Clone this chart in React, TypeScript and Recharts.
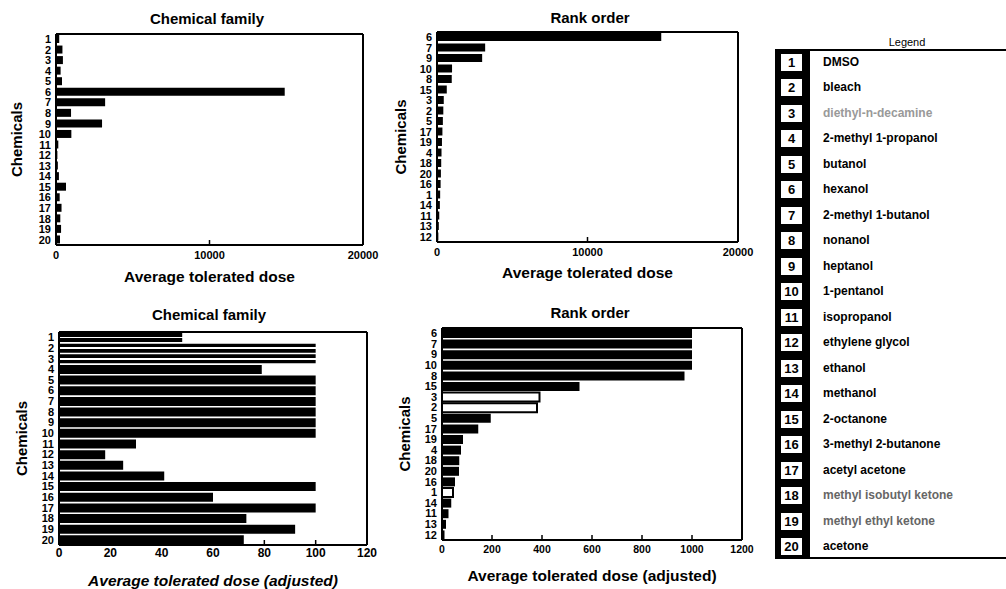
import React from "react";
import { BarChart, Bar, XAxis, YAxis, Cell, CartesianGrid } from "recharts";

// chemical numbers (category ticks)
const chemicals = ["1", "2", "3", "4", "5", "6", "7", "8", "9", "10", "11", "12", "13", "14", "15", "16", "17", "18", "19", "20"];

const chemicalNames = [
  "DMSO",
  "bleach",
  "diethyl-n-decamine",
  "2-methyl 1-propanol",
  "butanol",
  "hexanol",
  "2-methyl 1-butanol",
  "nonanol",
  "heptanol",
  "1-pentanol",
  "isopropanol",
  "ethylene glycol",
  "ethanol",
  "methanol",
  "2-octanone",
  "3-methyl 2-butanone",
  "acetyl acetone",
  "methyl isobutyl ketone",
  "methyl ethyl ketone",
  "acetone",
];

// average tolerated dose, chemicals 1..20
const averageDose = [210, 420, 450, 300, 390, 14900, 3200, 980, 3000, 1000, 150, 90, 120, 190, 650, 240, 360, 280, 330, 260];

// rank order of chemicals (top to bottom)
const rankOrder = [6, 7, 9, 10, 8, 15, 3, 2, 5, 17, 19, 4, 18, 20, 16, 1, 14, 11, 13, 12];

// adjusted dose by chemical family, chemicals 1..20
const adjustedFamilyDose = [48, 100, 100, 79, 100, 100, 100, 100, 100, 100, 30, 18, 25, 41, 100, 60, 100, 73, 92, 72];

// adjusted dose in rank order (same order as rankOrder)
const adjustedRankDose = [1000, 1000, 1000, 1000, 970, 550, 390, 380, 195, 145, 84, 76, 69, 68, 52, 44, 37, 26, 16, 10];

const rawTicks = [0, 10000, 20000];
const familyTicks = [0, 20, 40, 60, 80, 100, 120];
const rankTicks = [0, 200, 400, 600, 800, 1000, 1200];

// chemicals drawn as hollow bars in the adjusted panels
const hollowChemicals = ["1", "2", "3"];

const familyData = chemicals.map((c, i) => ({ label: c, value: averageDose[i] }));
const rankData = rankOrder.map((n) => ({ label: String(n), value: averageDose[n - 1] }));
const adjFamilyData = chemicals.map((c, i) => ({ label: c, value: adjustedFamilyDose[i] }));
const adjRankData = rankOrder.map((n, i) => ({ label: String(n), value: adjustedRankDose[i] }));

const FONT = "'Liberation Sans', Arial, Helvetica, sans-serif";
const frameLine = { stroke: "#000", strokeWidth: 2 };

type PanelProps = {
  id: string;
  data: { label: string; value: number }[];
  ticks: number[];
  max: number;
  left: number;
  top: number;
  width: number;
  height: number;
  margin: { top: number; right: number; bottom: number; left: number };
  barSize: number;
  tickFont: number;
  tickMargin: number;
  xLabel: string;
  xLabelOffset: number;
  yLabelOffset: number;
  italic?: boolean;
  hollow?: "stripe" | "outline";
  title: string;
  titleX: number;
  titleY: number;
};

function Panel(p: PanelProps) {
  return (
    <>
      <div
        style={{
          position: "absolute",
          left: p.titleX - 100,
          top: p.titleY - 9,
          width: 200,
          textAlign: "center",
          fontSize: 15,
          fontWeight: 700,
          lineHeight: "18px",
        }}
      >
        {p.title}
      </div>
      <div style={{ position: "absolute", left: p.left, top: p.top }}>
        <BarChart width={p.width} height={p.height} data={p.data} layout="vertical" margin={p.margin}>
          <defs>
            <linearGradient id={`stripe-${p.id}`} x1="0" y1="0" x2="0" y2="1">
              <stop offset="0.4" stopColor="#000" />
              <stop offset="0.4" stopColor="#fff" />
              <stop offset="0.6" stopColor="#fff" />
              <stop offset="0.6" stopColor="#000" />
            </linearGradient>
          </defs>
          {/* plot frame: lines on the four edges of the plot area */}
          <CartesianGrid
            stroke="#000"
            strokeWidth={2}
            horizontalCoordinatesGenerator={({ offset }: any) => [offset.top, offset.top + offset.height]}
            verticalCoordinatesGenerator={({ offset }: any) => [offset.left, offset.left + offset.width]}
          />
          <XAxis
            type="number"
            domain={[0, p.max]}
            ticks={p.ticks}
            interval={0}
            height={20}
            axisLine={frameLine}
            tickLine={{ stroke: "#000", strokeWidth: 1.5 }}
            tickSize={-5}
            tickMargin={p.tickMargin}
            tick={{ fontSize: p.tickFont, fontWeight: 700, fill: "#000", fontFamily: FONT }}
            label={{
              value: p.xLabel,
              position: "bottom",
              offset: p.xLabelOffset,
              style: {
                fontSize: 15.5,
                fontWeight: 700,
                fill: "#000",
                fontFamily: FONT,
                fontStyle: p.italic ? "italic" : "normal",
              },
            }}
          />
          <YAxis
            type="category"
            dataKey="label"
            interval={0}
            width={26}
            axisLine={frameLine}
            tickLine={false}
            tickSize={0}
            tickMargin={5}
            tick={{ fontSize: 11, fontWeight: 700, fill: "#000", fontFamily: FONT }}
            label={{
              value: "Chemicals",
              angle: -90,
              position: "left",
              offset: p.yLabelOffset,
              style: { fontSize: 15, fontWeight: 700, fill: "#000", fontFamily: FONT, textAnchor: "middle" },
            }}
          />
          <Bar dataKey="value" fill="#000" barSize={p.barSize} isAnimationActive={false}>
            {p.data.map((d) => {
              const isHollow = p.hollow && hollowChemicals.includes(d.label);
              if (isHollow && p.hollow === "stripe")
                return <Cell key={d.label} fill={`url(#stripe-${p.id})`} />;
              if (isHollow && p.hollow === "outline")
                return <Cell key={d.label} fill="#fff" stroke="#000" strokeWidth={2} />;
              return <Cell key={d.label} fill="#000" />;
            })}
          </Bar>
        </BarChart>
      </div>
    </>
  );
}

function ChemicalLegend() {
  const rowH = 25.5;
  return (
    <>
      <div
        style={{
          position: "absolute",
          left: 857,
          top: 35,
          width: 100,
          textAlign: "center",
          fontSize: 11,
          lineHeight: "14px",
        }}
      >
        Legend
      </div>
      <div
        style={{
          position: "absolute",
          left: 775,
          top: 49,
          width: 250,
          height: 506,
          borderTop: "2px solid #000",
          borderLeft: "2px solid #000",
          borderBottom: "2px solid #000",
          background: "#fff",
        }}
      >
        <div style={{ position: "absolute", left: 0, top: 0, width: 33, height: "100%", background: "#000" }} />
        {chemicalNames.map((name, i) => {
          const faded = i === 2 ? "#999" : i === 17 || i === 18 ? "#666" : "#000";
          return (
            <div key={name} style={{ position: "absolute", left: 0, top: i * rowH - 1.5, height: rowH, width: 250 }}>
              <div
                style={{
                  position: "absolute",
                  left: 4,
                  top: (rowH - 17) / 2,
                  width: 21,
                  height: 17,
                  background: "#fff",
                  fontSize: 13,
                  fontWeight: 700,
                  lineHeight: "17px",
                  textAlign: "center",
                }}
              >
                {chemicals[i]}
              </div>
              <div
                style={{
                  position: "absolute",
                  left: 46,
                  top: 0,
                  lineHeight: `${rowH}px`,
                  fontSize: 12,
                  fontWeight: 700,
                  color: faded,
                  whiteSpace: "nowrap",
                }}
              >
                {name}
              </div>
            </div>
          );
        })}
      </div>
    </>
  );
}

export default function App() {
  return (
    <div
      style={{
        position: "absolute",
        left: 0,
        top: 0,
        width: 1006,
        height: 589,
        overflow: "hidden",
        background: "#fff",
        fontFamily: FONT,
        color: "#000",
      }}
    >
      <Panel
        id="tl"
        data={familyData}
        ticks={rawTicks}
        max={20000}
        left={0}
        top={0}
        width={390}
        height={290}
        margin={{ top: 34, right: 27, bottom: 25, left: 30 }}
        barSize={8}
        tickFont={11}
        tickMargin={11}
        xLabel="Average tolerated dose"
        xLabelOffset={6}
        yLabelOffset={13}
        title="Chemical family"
        titleX={207}
        titleY={19}
      />
      <Panel
        id="tr"
        data={rankData}
        ticks={rawTicks}
        max={20000}
        left={380}
        top={0}
        width={390}
        height={290}
        margin={{ top: 32, right: 32, bottom: 28, left: 31 }}
        barSize={8}
        tickFont={11}
        tickMargin={11}
        xLabel="Average tolerated dose"
        xLabelOffset={5}
        yLabelOffset={10}
        title="Rank order"
        titleX={590}
        titleY={18}
      />
      <Panel
        id="bl"
        data={adjFamilyData}
        ticks={familyTicks}
        max={120}
        left={0}
        top={290}
        width={390}
        height={299}
        margin={{ top: 42, right: 23, bottom: 24, left: 33 }}
        barSize={9}
        tickFont={12}
        tickMargin={8}
        xLabel="Average tolerated dose (adjusted)"
        xLabelOffset={10}
        yLabelOffset={11}
        italic
        hollow="stripe"
        title="Chemical family"
        titleX={209}
        titleY={315}
      />
      <Panel
        id="br"
        data={adjRankData}
        ticks={rankTicks}
        max={1200}
        left={380}
        top={290}
        width={390}
        height={299}
        margin={{ top: 38, right: 28, bottom: 29, left: 36 }}
        barSize={9}
        tickFont={10.5}
        tickMargin={11}
        xLabel="Average tolerated dose (adjusted)"
        xLabelOffset={10}
        yLabelOffset={11}
        hollow="outline"
        title="Rank order"
        titleX={590}
        titleY={313}
      />
      <ChemicalLegend />
    </div>
  );
}
